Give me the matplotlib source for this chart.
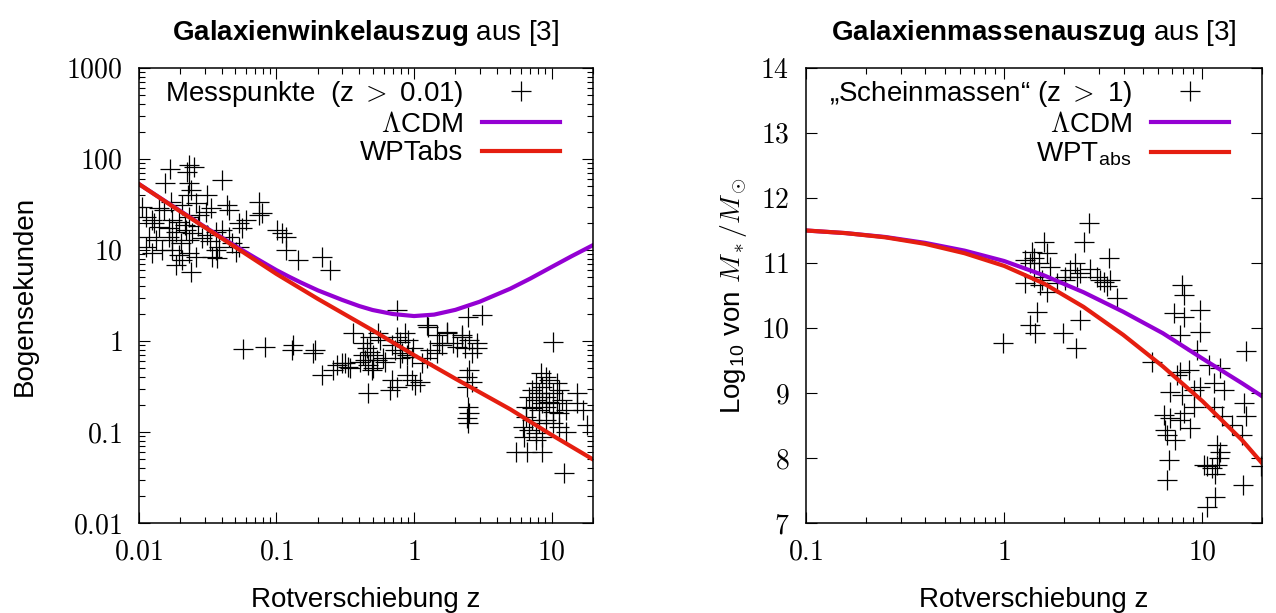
import numpy as np
import matplotlib
matplotlib.use("Agg")
import matplotlib.pyplot as plt
from matplotlib.ticker import NullFormatter

# -------------------------------------------------------------
# Daten
# -------------------------------------------------------------

# linke Grafik: Winkelgroesse der Galaxien (Bogensekunden) ueber z
z_mess = [
    0.0169, 0.0231, 0.0251, 0.0223, 0.0154, 0.0401, 0.0231, 0.0239, 0.0227, 0.0312,
    0.0743, 0.0171, 0.0140, 0.0152, 0.0205, 0.0259, 0.0451, 0.0436, 0.0743, 0.0105,
    0.0112, 0.0124, 0.0174, 0.0195, 0.0307, 0.0333, 0.0231, 0.0273, 0.0532, 0.0598,
    0.0560, 0.1005, 0.109, 0.117, 0.117, 0.0140, 0.0165, 0.0186, 0.0219, 0.0243,
    0.0362, 0.0401, 0.0118, 0.0133, 0.0112, 0.0165, 0.0174, 0.0202, 0.0231, 0.0287,
    0.0312, 0.0451, 0.0474, 0.0381, 0.0362, 0.0532, 0.0506, 0.0124, 0.0147, 0.0174,
    0.0195, 0.0205, 0.0186, 0.0231, 0.0259, 0.0339, 0.0369, 0.0239, 0.143, 0.213,
    0.244, 0.0782, 0.0128, 0.0215, 0.027, 0.033,
    # mittlerer Bereich
    0.0569, 0.0822, 0.131, 0.129, 0.190, 0.183, 0.213, 0.274, 0.298, 0.330,
    0.256, 0.313, 0.341, 0.748, 0.358, 0.460, 0.476, 0.544, 0.562, 0.424,
    0.453, 0.476, 0.500, 0.424, 0.403, 0.438, 0.460, 0.500, 0.492, 0.592,
    0.611, 0.535, 0.748, 0.786, 0.855, 0.899, 0.687, 0.723, 0.813, 0.786,
    0.884, 0.977, 0.961, 0.687, 0.748, 0.665, 0.884, 0.961, 1.01, 1.10,
    1.24, 1.48, 1.75, 1.91, 1.61, 1.30, 1.46, 1.24, 1.15, 2.45,
    3.10, 2.25, 2.53, 2.85, 2.33, 2.62, 2.85, 2.53, 2.41, 2.62,
    2.41, 2.45, 2.53, 2.41, 2.45, 1.26, 1.73, 1.53, 2.04, 2.22,
    10.2,
    # hohe Rotverschiebung
    8.45, 9.18, 7.77, 8.59, 9.66, 10.9, 7.26, 8.17, 9.18, 10.2,
    11.4, 6.91, 7.77, 8.59, 9.66, 10.9, 12.0, 6.57, 7.26, 8.17,
    9.18, 10.2, 11.4, 12.8, 15.2, 15.4, 6.57, 7.26, 8.17, 9.18,
    10.2, 11.4, 6.15, 6.91, 7.77, 8.59, 12.8, 5.56, 6.68, 8.59,
    6.35, 7.77, 12.4, 16.8, 18.2,
]
theta_mess = [
    77, 86, 82, 72, 54, 59, 54, 46, 40, 40,
    34, 34, 29, 27.5, 31, 33, 27.5, 31, 24, 30,
    23, 21.4, 21.4, 20.3, 26, 29, 23, 24, 19.8, 21.4,
    17.5, 16.6, 15.4, 13.9, 10.0, 17.9, 17.5, 15.8, 16.6, 15.4,
    15.8, 16.6, 13.9, 12.9, 10.8, 13.9, 12.9, 11.9, 12.9, 13.6,
    14.6, 13.9, 11.9, 10.8, 10.0, 10.8, 9.5, 9.3, 10.0, 10.0,
    8.8, 7.8, 6.8, 9.3, 8.4, 8.4, 8.2, 5.7, 7.8, 8.4,
    6.0, 25.5, 20, 19, 18.5, 12.5,
    0.82, 0.86, 0.90, 0.80, 0.80, 0.74, 0.42, 0.54, 0.57, 0.52,
    0.48, 0.57, 0.50, 2.19, 1.22, 0.27, 1.11, 1.22, 1.03, 0.95,
    0.84, 0.76, 0.70, 0.70, 0.59, 0.62, 0.54, 0.50, 0.48, 0.65,
    0.59, 0.62, 1.11, 0.975, 1.22, 1.03, 0.90, 0.80, 0.74, 0.65,
    0.70, 0.84, 0.67, 0.37, 0.31, 0.29, 0.42, 0.37, 0.33, 0.354,
    1.50, 1.16, 1.22, 0.95, 0.90, 0.80, 0.74, 0.65, 0.57, 1.84,
    1.93, 1.11, 1.03, 0.95, 0.84, 0.74, 0.84, 0.48, 0.40, 0.354,
    0.31, 0.188, 0.162, 0.143, 0.126, 1.43, 1.26, 0.95, 0.86, 1.16,
    0.975,
    0.445, 0.40, 0.345, 0.31, 0.37, 0.345, 0.29, 0.27, 0.243, 0.27,
    0.29, 0.243, 0.225, 0.208, 0.214, 0.208, 0.225, 0.188, 0.184, 0.175,
    0.188, 0.166, 0.162, 0.175, 0.208, 0.27, 0.146, 0.136, 0.126, 0.136,
    0.126, 0.114, 0.114, 0.105, 0.097, 0.088, 0.100, 0.060, 0.060, 0.060,
    0.088, 0.082, 0.035, 0.175, 0.119,
]

# Modellkurven links
z_lcdm_w = [0.01, 0.015, 0.02, 0.03, 0.05, 0.07, 0.1, 0.123, 0.15, 0.2, 0.244, 0.3,
            0.4, 0.5, 0.7, 1.0, 1.4, 2.0, 3.0, 5.0, 7.0, 10.0, 14.0, 20.0]
theta_lcdm = [53, 35.5, 26.8, 18.0, 11.1, 8.2, 6.0, 5.1, 4.4, 3.6, 3.2, 2.83,
              2.42, 2.19, 1.98, 1.88, 1.95, 2.2, 2.7, 3.75, 4.85, 6.5, 8.55, 11.3]
z_wpt_w = [0.01, 0.02, 0.05, 0.1, 0.2, 0.5, 1.0, 2.0, 5.0, 10.0, 20.0]
theta_wpt = [53, 26.5, 10.8, 5.45, 2.9, 1.31, 0.70, 0.385, 0.178, 0.093, 0.050]

# rechte Grafik: log10 der Galaxienmasse ueber z
z_masse = [
    2.67, 2.52, 1.58, 1.64, 1.38, 1.41, 1.28, 1.35, 1.49, 1.71,
    3.36, 2.28, 2.15, 2.03, 2.72, 2.94, 3.17, 3.43, 3.30, 2.33,
    1.28, 1.41, 1.55, 1.64, 1.52, 1.85, 2.03, 3.71, 1.46, 2.42,
    1.35, 1.43, 1.99, 0.99, 2.31, 2.42, 3.05, 5.57, 7.89, 8.05,
    7.16, 8.05, 9.77, 7.74, 9.77, 9.40, 16.5, 7.74, 8.53, 7.45,
    10.8, 12.3, 6.89, 7.89, 9.04, 9.77, 11.4, 12.8, 9.04, 11.4,
    12.6, 16.2, 16.5, 15.9, 14.1, 6.38, 6.89, 7.74, 8.05, 6.51,
    6.63, 7.31, 8.70, 6.76, 6.63, 11.9, 12.3, 12.1, 11.9, 11.2,
    10.6, 11.6, 10.2, 16.0, 19.8, 11.6, 10.6,
]
log_masse = [
    11.61, 11.33, 11.33, 11.15, 11.17, 11.07, 11.05, 11.0, 11.0, 10.94,
    11.07, 11.0, 10.89, 10.79, 10.90, 10.79, 10.71, 10.74, 10.64, 10.79,
    10.69, 10.79, 10.74, 10.56, 10.66, 10.69, 10.74, 10.46, 10.25, 10.12,
    10.05, 9.92, 9.93, 9.77, 9.69, 10.84, 10.74, 9.48, 10.66, 10.51,
    10.23, 10.17, 10.28, 9.89, 9.94, 9.66, 9.64, 9.33, 9.35, 9.28,
    9.43, 9.38, 9.02, 8.97, 9.05, 9.10, 9.15, 9.05, 8.79, 8.79,
    8.64, 8.84, 8.64, 8.35, 8.51, 8.66, 8.61, 8.58, 8.69, 8.43,
    8.35, 8.28, 8.46, 7.97, 7.66, 8.2, 8.10, 8.0, 7.89, 7.84,
    7.87, 7.76, 7.89, 7.58, 7.87, 7.40, 7.25,
]

# Modellkurven rechts
z_kurve_m = [0.1, 0.158, 0.251, 0.398, 0.631, 1.0, 1.585, 2.512, 3.981, 6.31, 10.0, 15.85, 20.0]
m_lcdm = [11.5, 11.46, 11.40, 11.31, 11.19, 11.03, 10.81, 10.55, 10.25, 9.92, 9.53, 9.15, 8.95]
m_wpt = [11.5, 11.46, 11.395, 11.295, 11.15, 10.955, 10.685, 10.325, 9.895, 9.41, 8.875, 8.275, 7.92]

# Achsenbeschriftung
xt_links = [0.01, 0.1, 1, 10]
xl_links = ["$0.01$", "$0.1$", "$1$", "$10$"]
yt_links = [0.01, 0.1, 1, 10, 100, 1000]
yl_links = ["$0.01$", "$0.1$", "$1$", "$10$", "$100$", "$1000$"]
xt_rechts = [0.1, 1, 10]
xl_rechts = ["$0.1$", "$1$", "$10$"]
yt_rechts = [7, 8, 9, 10, 11, 12, 13, 14]
yl_rechts = ["$%d$" % v for v in yt_rechts]

VIOLETT = "#9400D3"
ROT = "#E51E10"
FS = 20

plt.rcParams['font.family'] = ['Liberation Sans', 'DejaVu Sans']
plt.rcParams['mathtext.fontset'] = 'cm'
plt.rcParams['mathtext.bf'] = 'Liberation Sans:bold'
plt.rcParams['mathtext.rm'] = 'Liberation Sans'

fig = plt.figure(figsize=(12.76, 6.13), dpi=100)
ax1 = fig.add_axes([0.1089, 0.1468, 0.3558, 0.7423])
ax2 = fig.add_axes([0.6317, 0.1468, 0.3574, 0.7423])


def stil(ax, xt, xl, yt, yl):
    ax.set_xticks(xt, xl)
    ax.set_yticks(yt, yl)
    ax.xaxis.set_minor_formatter(NullFormatter())
    ax.yaxis.set_minor_formatter(NullFormatter())
    ax.tick_params(which='both', direction='in', top=True, right=True,
                   width=0.8, labelsize=FS)
    ax.tick_params(which='major', length=8)
    ax.tick_params(which='minor', length=4)
    ax.tick_params(axis='x', pad=12)
    ax.tick_params(axis='y', pad=12)
    for s in ax.spines.values():
        s.set_linewidth(1.1)


# -------------------------------------------------------------
# links: Galaxienwinkel
# -------------------------------------------------------------
ax1.plot(z_mess, theta_mess, ls='none', marker='+', ms=14, mew=0.9,
         color='black', label="Messpunkte  (z $>$ 0.01)")
ax1.plot(z_lcdm_w, theta_lcdm, color=VIOLETT, lw=3, label=r"$\Lambda$CDM")
ax1.plot(z_wpt_w, theta_wpt, color=ROT, lw=3, label="WPTabs")
ax1.set_xscale('log')
ax1.set_yscale('log')
ax1.set_xlim(0.01, 20)
ax1.set_ylim(0.01, 1000)
stil(ax1, xt_links, xl_links, yt_links, yl_links)
ax1.set_xlabel("Rotverschiebung z", fontsize=FS, labelpad=15)
ax1.set_ylabel("Bogensekunden", fontsize=FS, labelpad=20)
ax1.set_title(r"$\mathbf{Galaxienwinkelauszug}$ aus [3]", fontsize=FS,
              pad=20, math_fontfamily='custom')

# -------------------------------------------------------------
# rechts: Galaxienmassen
# -------------------------------------------------------------
ax2.plot(z_masse, log_masse, ls='none', marker='+', ms=14, mew=0.9,
         color='black', label="\u201eScheinmassen\u201c (z $>$ 1)")
ax2.plot(z_kurve_m, m_lcdm, color=VIOLETT, lw=3, label=r"$\Lambda$CDM")
ax2.plot(z_kurve_m, m_wpt, color=ROT, lw=3, label=r"WPT$_{\mathregular{abs}}$")
ax2.set_xscale('log')
ax2.set_xlim(0.1, 20)
ax2.set_ylim(7, 14)
stil(ax2, xt_rechts, xl_rechts, yt_rechts, yl_rechts)
ax2.set_xlabel("Rotverschiebung z", fontsize=FS, labelpad=15)
ax2.set_ylabel(r"Log$_{\mathregular{10}}$ von $M_*/M_\odot$", fontsize=FS, labelpad=8)
ax2.set_title(r"$\mathbf{Galaxienmassenauszug}$ aus [3]", fontsize=FS,
              pad=20, math_fontfamily='custom')

for ax in (ax1, ax2):
    ax.legend(loc='upper right', bbox_to_anchor=(0.928, 0.976), frameon=False,
              markerfirst=False, handlelength=2.8, handletextpad=0.7,
              labelspacing=0.1, borderpad=0, borderaxespad=0, numpoints=1,
              fontsize=FS)

fig.savefig("out.png", dpi=100)
